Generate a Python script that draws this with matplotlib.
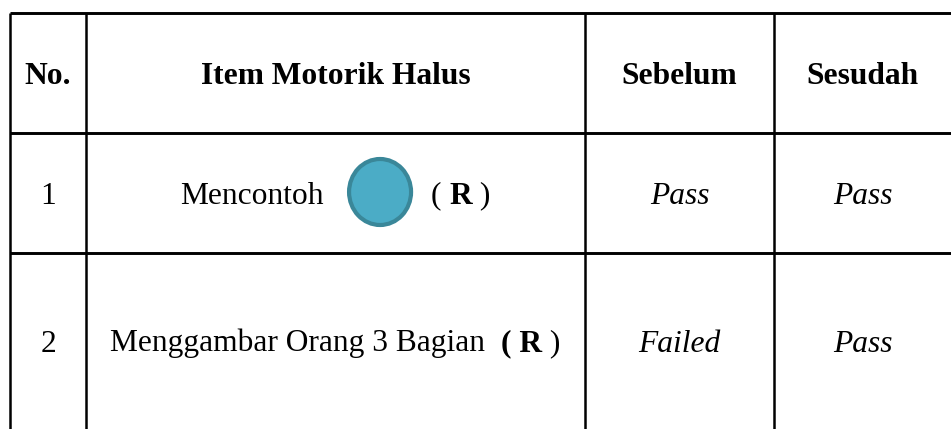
import matplotlib.pyplot as plt
from matplotlib.patches import Ellipse

plt.rcParams['font.family'] = ['Liberation Serif', 'DejaVu Serif']

headers = ['No.', 'Item Motorik Halus', 'Sebelum', 'Sesudah']
numbers = ['1', '2']
# item text pieces: (text, bold) ; 'CIRCLE' marks the drawn shape
items = [
    [('Mencontoh', False), ('CIRCLE', False), ('( ', False), ('R', True), (' )', False)],
    [('Menggambar Orang 3 Bagian  ', False), ('( R', True), (' )', False)],
]
sebelum = ['Pass', 'Failed']
sesudah = ['Pass', 'Pass']

# table layout in pixels
col_x = [10, 86, 585, 774, 951]
row_y = [13, 133, 253, 429]
fs = 22.7
lw = 1.8

fig = plt.figure(figsize=(9.51, 4.29), dpi=100)
ax = fig.add_axes([0, 0, 1, 1])
ax.set_xlim(0, 951)
ax.set_ylim(429, 0)
ax.axis('off')

for y in row_y[:-1]:
    ax.plot([col_x[0], col_x[-1]], [y, y], color='black', lw=lw + 0.3, solid_capstyle='butt')
for x in col_x[:-1]:
    ax.plot([x, x], [row_y[0], row_y[-1]], color='black', lw=lw, solid_capstyle='butt')

def centers(i):
    return (row_y[i] + row_y[i + 1]) / 2

def col_c(j):
    return (col_x[j] + col_x[j + 1]) / 2

# header
for j, h in enumerate(headers):
    ax.text(col_c(j), centers(0) + 10.5, h, ha='center', va='baseline',
            fontsize=fs, fontweight='bold')

fig.canvas.draw()
renderer = fig.canvas.get_renderer()

def text_width(s, bold):
    t = ax.text(0, 0, s, fontsize=fs, fontweight='bold' if bold else 'normal')
    w = t.get_window_extent(renderer).width
    t.remove()
    return w

circle_w = 62
gap_l, gap_r = 25, 20

for i in range(2):
    yb = centers(i + 1) + 10.5
    ax.text(col_c(0), yb, numbers[i], ha='center', va='baseline', fontsize=fs)
    ax.text(col_c(2), yb, sebelum[i], ha='center', va='baseline', fontsize=fs, style='italic')
    ax.text(col_c(3), yb, sesudah[i], ha='center', va='baseline', fontsize=fs, style='italic')

    widths = []
    for s, b in items[i]:
        if s == 'CIRCLE':
            widths.append(gap_l + circle_w + gap_r)
        else:
            widths.append(text_width(s, b))
    x = col_c(1) - sum(widths) / 2
    for (s, b), w in zip(items[i], widths):
        if s == 'CIRCLE':
            ax.add_patch(Ellipse((x + gap_l + circle_w / 2, centers(i + 1) - 1), circle_w, 66,
                                 facecolor='#4bacc6', edgecolor='#3a8799', lw=3))
        else:
            ax.text(x, yb, s, ha='left', va='baseline', fontsize=fs,
                    fontweight='bold' if b else 'normal')
        x += w

fig.savefig('out.png', dpi=100)
